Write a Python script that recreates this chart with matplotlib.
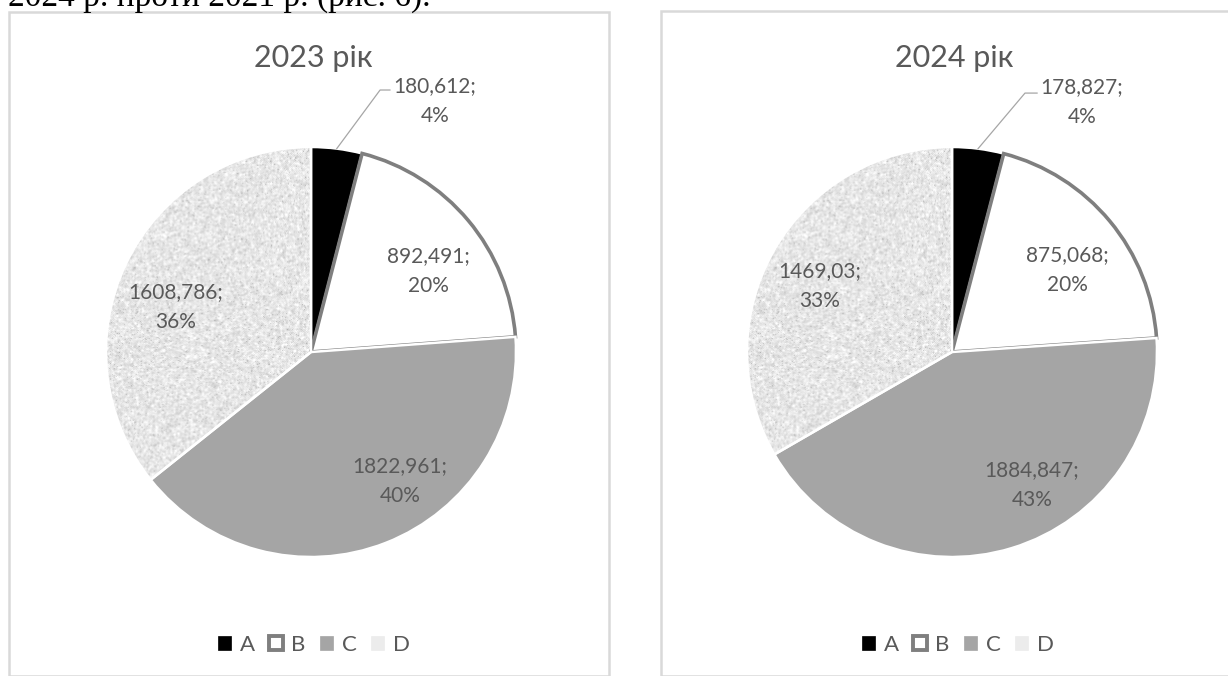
import numpy as np
import matplotlib
matplotlib.use("Agg")
import matplotlib.pyplot as plt
from matplotlib.patches import Patch, Rectangle
from matplotlib.lines import Line2D

# ---- data ----
categories = ["A", "B", "C", "D"]
titles = ["2023 рік", "2024 рік"]
values_2023 = [180.612, 892.491, 1822.961, 1608.786]
values_2024 = [178.827, 875.068, 1884.847, 1469.03]
caption = "2024 р. проти 2021 р. (рис. 6)."

# ---- style ----
W, H, DPI = 1228, 676, 100
FONT = ["Lato", "Open Sans", "DejaVu Sans"]
TEXT_COLOR = "#595959"
FILLS = ["#000000", "#ffffff", "#a5a5a5", "none"]
EDGES = ["white", "#7f7f7f", "white", "white"]
EDGE_W = [1.8, 2.6, 1.8, 1.8]
PIE_CENTERS = [(311, 352), (952, 352)]   # pixels from top-left
PIE_RADIUS = 205
# label block centres, in pie radius units relative to the pie centre
LABEL_POS = [
    [(0.605, 1.225), (0.571, 0.395), (0.434, -0.629), (-0.659, 0.220)],
    [(0.634, 1.220), (0.561, 0.400), (0.390, -0.649), (-0.644, 0.322)],
]
# leader line elbow / end for the small slice
LEADERS = [[(0.337, 1.278), (0.385, 1.278)], [(0.356, 1.263), (0.415, 1.263)]]
LEGEND_X = [314, 958]
LEGEND_Y = 645
BOXES = [(9, 12, 600), (661, 11, 620)]   # left, top, width in pixels


def fmt_value(v):
    s = f"{v:.3f}".rstrip("0").rstrip(".")
    return s.replace(".", ",")


def speckle_texture(n=420, seed=3):
    rng = np.random.default_rng(seed)
    a = rng.normal(0.0, 1.0, (n, n))
    # light smoothing for a grainy, paper-like look
    s = (a + np.roll(a, 1, 0) + np.roll(a, -1, 0) + np.roll(a, 1, 1) + np.roll(a, -1, 1)) / 5.0
    s = s / s.std()
    tex = 0.905 + 0.04 * s
    specks = rng.random((n, n)) < 0.03
    tex[specks] -= 0.13
    return np.clip(tex, 0, 1)


fig = plt.figure(figsize=(W / DPI, H / DPI), dpi=DPI)
fig.patch.set_facecolor("white")

# caption line from the surrounding document, cut by the top edge
fig.text(8 / W, 1 - 6 / H, caption, family=["Liberation Serif", "DejaVu Serif"],
         fontsize=24, color="black", ha="left", va="baseline")

# chart frames
for (bx, by, bw) in BOXES:
    fig.patches.append(Rectangle((bx / W, 0), bw / W, 1 - by / H, transform=fig.transFigure,
                                 facecolor="none", edgecolor="#d9d9d9", linewidth=1.8,
                                 clip_on=False))

texture = speckle_texture()

for i, values in enumerate([values_2023, values_2024]):
    cx, cy = PIE_CENTERS[i]
    r = PIE_RADIUS
    ax = fig.add_axes([(cx - r) / W, (H - cy - r) / H, 2 * r / W, 2 * r / H])
    total = sum(values)
    wedges, _ = ax.pie(values, startangle=90, counterclock=False, radius=1.0,
                       colors=["black"] * 4,
                       wedgeprops=dict(linewidth=1.8, edgecolor="white"))
    for w, fc, ec, lw in zip(wedges, FILLS, EDGES, EDGE_W):
        w.set_facecolor(fc)
        w.set_edgecolor(ec)
        w.set_linewidth(lw)
        w.set_zorder(2)
    # grainy fill for the last slice
    im = ax.imshow(texture, cmap="gray", vmin=0, vmax=1, extent=(-1.02, 1.02, -1.02, 1.02),
                   interpolation="bilinear", zorder=1)
    im.set_clip_path(wedges[3])
    ax.set_xlim(-1, 1)
    ax.set_ylim(-1, 1)
    ax.set_aspect("auto")
    ax.axis("off")

    for j, v in enumerate(values):
        pct = round(v / total * 100)
        lx, ly = LABEL_POS[i][j]
        ax.text(lx, ly, f"{fmt_value(v)};\n{pct}%", ha="center", va="center",
                fontsize=15, color=TEXT_COLOR, family=FONT, linespacing=1.6, zorder=5)

    # leader line for the first (small) slice
    w0 = wedges[0]
    mid = np.deg2rad((w0.theta1 + w0.theta2) / 2)
    (ex, ey), (tx, ty) = LEADERS[i]
    ax.add_line(Line2D([np.cos(mid), ex, tx], [np.sin(mid), ey, ty], color="#a6a6a6",
                       linewidth=0.9, clip_on=False, zorder=4))

    fig.text(cx / W + 2 / W, 1 - 58 / H, titles[i], ha="center", va="center", fontsize=22,
             color=TEXT_COLOR, family=FONT)

    handles = [
        Patch(facecolor="#000000", edgecolor="#000000", linewidth=0.5),
        Patch(facecolor="#ffffff", edgecolor="#7f7f7f", linewidth=2.8),
        Patch(facecolor="#a5a5a5", edgecolor="#a5a5a5", linewidth=0.5),
        Patch(facecolor="#ececec", edgecolor="#ececec", linewidth=0.5),
    ]
    leg = fig.legend(handles, categories, loc="center", ncol=4,
                     bbox_to_anchor=(LEGEND_X[i] / W, 1 - LEGEND_Y / H),
                     frameon=False, handlelength=0.6, handleheight=0.6,
                     handletextpad=0.38, columnspacing=0.65,
                     prop=dict(family=FONT, size=16))
    for t in leg.get_texts():
        t.set_color(TEXT_COLOR)

fig.savefig("out.png", dpi=DPI, facecolor="white")
